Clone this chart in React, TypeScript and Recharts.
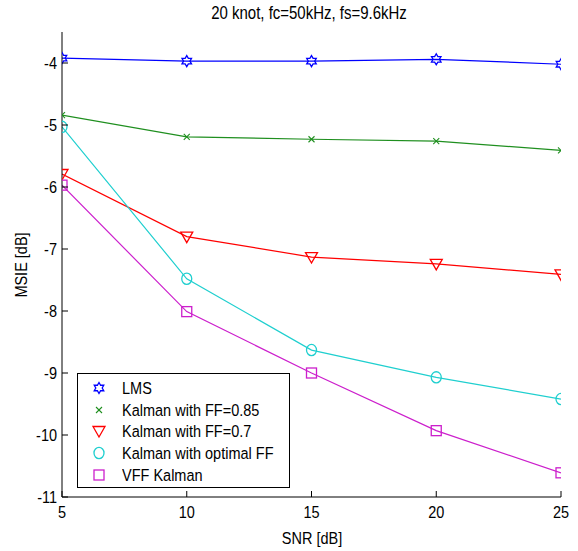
import React from 'react';
import { LineChart, Line, XAxis, YAxis, Legend } from 'recharts';

const snr = [5, 10, 15, 20, 25];
const lms = [-3.92, -3.97, -3.97, -3.94, -4.02];
const kalman085 = [-4.84, -5.19, -5.23, -5.26, -5.41];
const kalman07 = [-5.79, -6.8, -7.13, -7.24, -7.41];
const kalmanOpt = [-5.03, -7.48, -8.63, -9.07, -9.42];
const vffKalman = [-5.97, -8.01, -9.0, -9.93, -10.61];

const xTicks = [5, 10, 15, 20, 25];
const yTicks = [-11, -10, -9, -8, -7, -6, -5, -4];

const title = '20 knot, fc=50kHz, fs=9.6kHz';
const xLabel = 'SNR [dB]';
const yLabel = 'MSIE [dB]';

const seriesNames = ['LMS', 'Kalman with FF=0.85', 'Kalman with FF=0.7', 'Kalman with optimal FF', 'VFF Kalman'];
const seriesKeys = ['lms', 'k085', 'k07', 'kopt', 'vff'];
const seriesColors = ['#0000ff', '#1f8f1f', '#ff0000', '#1fcfcf', '#cc1fcc'];
const seriesMarkers = ['hexagram', 'x', 'triangle', 'circle', 'square'];

const data = snr.map((s, i) => ({
  snr: s,
  lms: lms[i],
  k085: kalman085[i],
  k07: kalman07[i],
  kopt: kalmanOpt[i],
  vff: vffKalman[i],
}));

const FONT = '"Liberation Sans", Arial, sans-serif';
const SY = 1.2;

function SText({ x, y, size, anchor, rotate, children }: any) {
  const tf = `translate(${x},${y})${rotate ? ` rotate(${rotate})` : ''} scale(1,${SY})`;
  return (
    <text x={0} y={0} transform={tf} textAnchor={anchor || 'middle'} fontSize={size} fontFamily={FONT} fill="#000">
      {children}
    </text>
  );
}

function Marker({ kind, cx, cy, color }: { kind: string; cx: number; cy: number; color: string }) {
  const sw = 1.3;
  if (kind === 'hexagram') {
    const pts: string[] = [];
    for (let k = 0; k < 12; k++) {
      const r = k % 2 === 0 ? 5.5 : 3.2;
      const a = (Math.PI / 6) * k - Math.PI / 2;
      pts.push(`${cx + r * Math.cos(a)},${cy + r * Math.sin(a)}`);
    }
    return <polygon points={pts.join(' ')} fill="none" stroke={color} strokeWidth={sw} />;
  }
  if (kind === 'x') {
    const d = 3;
    return (
      <g stroke={color} strokeWidth={1.1}>
        <line x1={cx - d} y1={cy - d} x2={cx + d} y2={cy + d} />
        <line x1={cx - d} y1={cy + d} x2={cx + d} y2={cy - d} />
      </g>
    );
  }
  if (kind === 'triangle') {
    const w = 6;
    return (
      <polygon
        points={`${cx - w},${cy - 4.5} ${cx + w},${cy - 4.5} ${cx},${cy + 6}`}
        fill="none"
        stroke={color}
        strokeWidth={sw}
      />
    );
  }
  if (kind === 'circle') {
    return <ellipse cx={cx} cy={cy} rx={5} ry={5.6} fill="none" stroke={color} strokeWidth={sw} />;
  }
  return <rect x={cx - 5} y={cy - 5} width={10} height={10} fill="none" stroke={color} strokeWidth={sw} />;
}

const makeDot = (kind: string, color: string) => (props: any) => {
  const { cx, cy, index } = props;
  if (cx == null || cy == null) return <g key={index} />;
  return (
    <g key={`${kind}-${index}`}>
      <Marker kind={kind} cx={cx} cy={cy} color={color} />
    </g>
  );
};

const BottomTick = (props: any) => {
  const { x, y, payload } = props;
  return (
    <g>
      <line x1={x} y1={y} x2={x} y2={y - 6} stroke="#000" strokeWidth={1} />
      <SText x={x} y={y + 21} size={14.5}>
        {payload.value}
      </SText>
    </g>
  );
};

const TopTick = (props: any) => {
  const { x, y } = props;
  return <line x1={x} y1={y} x2={x} y2={y + 6} stroke="#000" strokeWidth={1} />;
};

const LeftTick = (props: any) => {
  const { x, y, payload } = props;
  return (
    <g>
      <line x1={x} y1={y} x2={x + 6} y2={y} stroke="#000" strokeWidth={1} />
      <SText x={x - 5} y={y + 6} size={14.5} anchor="end">
        {payload.value}
      </SText>
    </g>
  );
};

const RightTick = (props: any) => {
  const { x, y } = props;
  return <line x1={x} y1={y} x2={x - 6} y2={y} stroke="#000" strokeWidth={1} />;
};

const LegendBox = () => (
  <div
    style={{
      width: 211,
      height: 113,
      border: '1px solid #000',
      background: '#fff',
      position: 'relative',
      fontFamily: FONT,
      fontSize: 14.5,
      color: '#000',
    }}
  >
    {seriesNames.map((n, i) => (
      <div
        key={n}
        style={{
          position: 'absolute',
          left: 0,
          top: 3 + i * 21.7,
          height: 21.7,
          width: 211,
          display: 'flex',
          alignItems: 'center',
        }}
      >
        <svg width={44} height={20} style={{ display: 'block' }}>
          <Marker kind={seriesMarkers[i]} cx={21} cy={10} color={seriesColors[i]} />
        </svg>
        <span style={{ whiteSpace: 'nowrap', display: 'inline-block', transform: `scaleY(${SY})` }}>{n}</span>
      </div>
    ))}
  </div>
);

export default function App() {
  return (
    <div style={{ position: 'absolute', left: 0, top: 0, width: 578, height: 551, background: '#fff' }}>
      <LineChart
        width={578}
        height={551}
        data={data}
        margin={{ top: 32, right: 17, bottom: 24, left: 0 }}
      >
        <XAxis
          xAxisId="bottom"
          dataKey="snr"
          type="number"
          domain={[5, 25]}
          ticks={xTicks}
          orientation="bottom"
          height={30}
          tickSize={0}
          tickMargin={0}
          tick={<BottomTick />}
          tickLine={false}
          axisLine={{ stroke: '#000', strokeWidth: 1 }}
          allowDataOverflow
        />
        <XAxis
          xAxisId="top"
          dataKey="snr"
          type="number"
          domain={[5, 25]}
          ticks={xTicks}
          orientation="top"
          height={0}
          tickSize={0}
          tickMargin={0}
          tick={<TopTick />}
          tickLine={false}
          axisLine={{ stroke: '#000', strokeWidth: 1 }}
          allowDataOverflow
        />
        <YAxis
          yAxisId="left"
          type="number"
          domain={[-11, -3.5]}
          ticks={yTicks}
          orientation="left"
          width={62}
          tickSize={0}
          tickMargin={0}
          tick={<LeftTick />}
          tickLine={false}
          axisLine={{ stroke: '#000', strokeWidth: 1 }}
          allowDataOverflow
        />
        <YAxis
          yAxisId="right"
          type="number"
          domain={[-11, -3.5]}
          ticks={yTicks}
          orientation="right"
          width={0}
          tickSize={0}
          tickMargin={0}
          tick={<RightTick />}
          tickLine={false}
          axisLine={{ stroke: '#000', strokeWidth: 1 }}
          allowDataOverflow
        />
        {seriesKeys.map((k, i) => (
          <Line
            key={k}
            xAxisId="bottom"
            yAxisId="left"
            type="linear"
            dataKey={k}
            name={seriesNames[i]}
            stroke={seriesColors[i]}
            strokeWidth={1.2}
            dot={makeDot(seriesMarkers[i], seriesColors[i])}
            activeDot={false}
            isAnimationActive={false}
          />
        ))}
        <Legend
          layout="vertical"
          align="center"
          verticalAlign="middle"
          content={() => <LegendBox />}
          wrapperStyle={{ position: 'absolute', left: 77, top: 373, width: 213, height: 115, margin: 0 }}
        />
        <SText x={309} y={19} size={15}>
          {title}
        </SText>
        <SText x={312} y={544} size={14.5}>
          {xLabel}
        </SText>
        <SText x={27} y={265} size={14.5} rotate={-90}>
          {yLabel}
        </SText>
      </LineChart>
    </div>
  );
}
